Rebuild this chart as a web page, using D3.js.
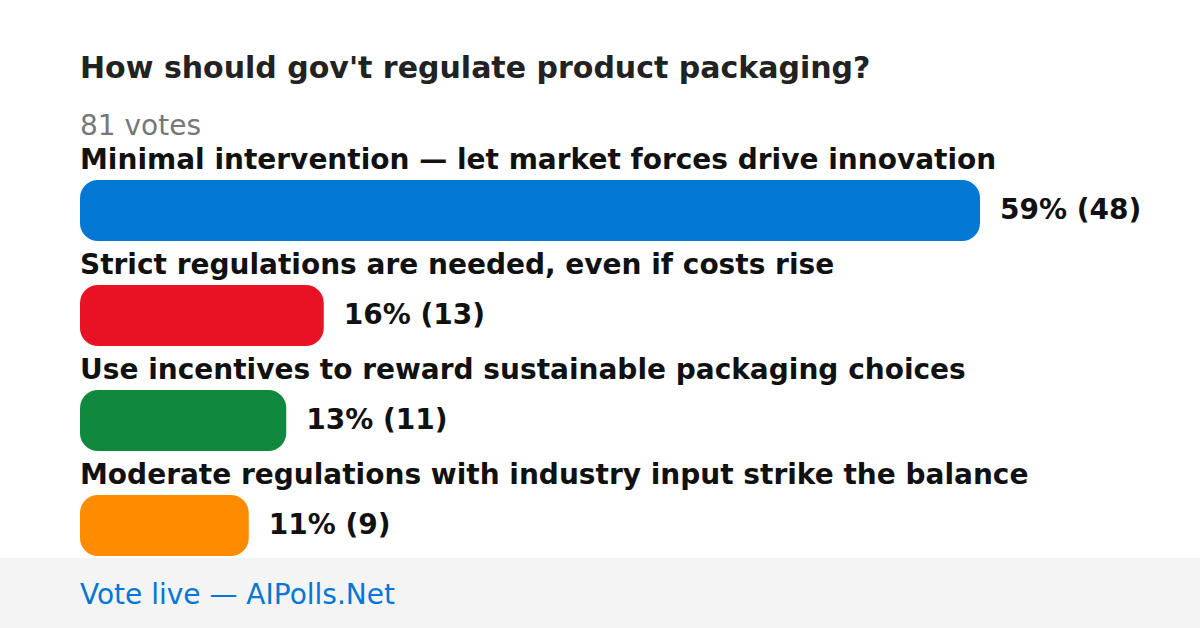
<!DOCTYPE html>
<html><head><meta charset="utf-8">
<script src="https://cdn.jsdelivr.net/npm/d3@7"></script>
<style>html,body{margin:0;padding:0;background:#fff;}svg{display:block;}</style>
</head><body>
<script>
const title = "How should gov't regulate product packaging?";
const totalLabel = "81 votes";
const options = [
  "Minimal intervention — let market forces drive innovation",
  "Strict regulations are needed, even if costs rise",
  "Use incentives to reward sustainable packaging choices",
  "Moderate regulations with industry input strike the balance"
];
const votes = [48, 13, 11, 9];
const percents = [59, 16, 13, 11];
const colors = ["#0277d4", "#e81224", "#10893e", "#ff8c00"];
const footerText = "Vote live — AIPolls.Net";

const W = 1200, H = 628;
const font = "'DejaVu Sans', sans-serif";
const svg = d3.select("body").append("svg").attr("width", W).attr("height", H);

svg.append("text").attr("x", 80).attr("y", 78).text(title)
  .attr("font-family", font).attr("font-weight", "bold").attr("font-size", 30).attr("fill", "#222");
svg.append("text").attr("x", 80).attr("y", 135).text(totalLabel)
  .attr("font-family", font).attr("font-size", 28).attr("fill", "#777");

const x = d3.scaleLinear().domain([0, d3.max(votes)]).range([0, 900]);
const y = d3.scaleBand().domain(d3.range(options.length)).range([180, 600]).paddingInner(0).paddingOuter(0);
const barH = 61;

const g = svg.selectAll("g.row").data(options).join("g").attr("class", "row");
g.append("text").attr("x", 80).attr("y", (d, i) => y(i) - 11).text(d => d)
  .attr("font-family", font).attr("font-weight", "bold").attr("font-size", 28).attr("fill", "#111");
g.append("rect").attr("x", 80).attr("y", (d, i) => y(i)).attr("width", (d, i) => x(votes[i]))
  .attr("height", barH).attr("rx", 18).attr("ry", 18).attr("fill", (d, i) => colors[i]);
g.append("text").attr("x", (d, i) => 80 + x(votes[i]) + 20).attr("y", (d, i) => y(i) + barH / 2 + 8)
  .text((d, i) => `${percents[i]}% (${votes[i]})`)
  .attr("font-family", font).attr("font-weight", "bold").attr("font-size", 28).attr("fill", "#111");

svg.append("rect").attr("x", 0).attr("y", 558).attr("width", W).attr("height", 70).attr("fill", "#f4f4f4");
svg.append("text").attr("x", 80).attr("y", 604).text(footerText)
  .attr("font-family", font).attr("font-size", 28).attr("fill", "#0277d4");
</script>
</body></html>
